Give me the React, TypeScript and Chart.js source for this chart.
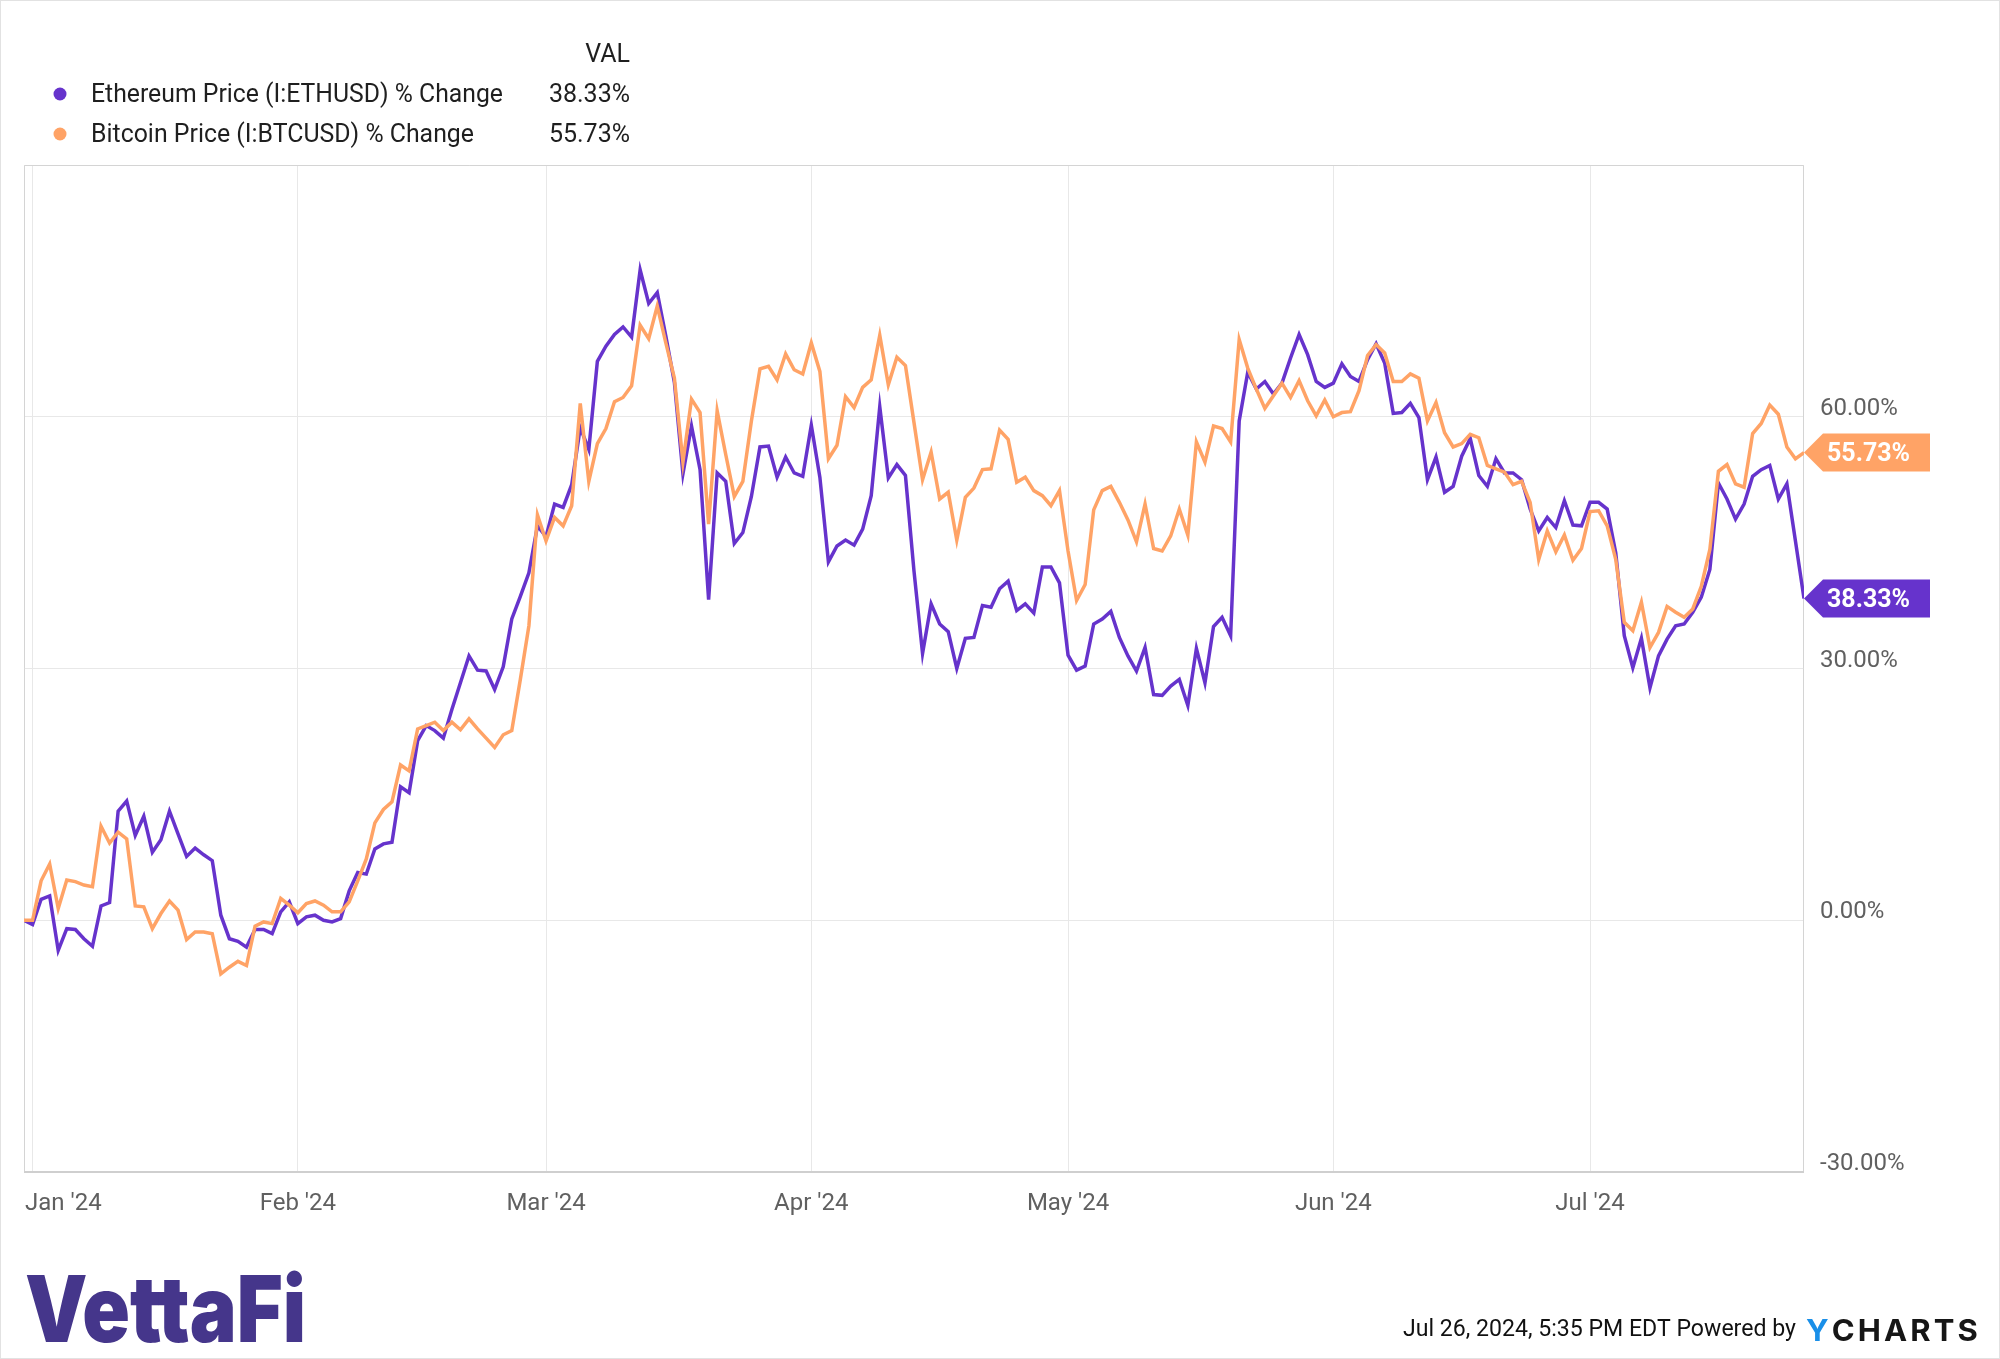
import { useEffect, useRef } from "react";
import { Chart, registerables } from "chart.js";

Chart.register(...registerables);

// Daily series, index 0 = Dec 31 2023 ... index 208 = Jul 26 2024
const startDate = "2023-12-31";

const ethValues: number[] = [
  0,
  // Jan
  -0.5, 2.5, 2.9, -3.6, -1.0, -1.1, -2.2, -3.1, 1.7, 2.1, 13.0, 14.2, 10.1, 12.4, 8.1, 9.6,
  13.0, 10.3, 7.6, 8.6, 7.8, 7.1, 0.6, -2.2, -2.5, -3.2, -1.1, -1.1, -1.6, 1.0, 2.2,
  // Feb
  -0.4, 0.4, 0.6, 0.0, -0.2, 0.2, 3.5, 5.7, 5.5, 8.5, 9.1, 9.3, 15.9, 15.2, 21.4, 23.2,
  22.6, 21.7, 25.1, 28.3, 31.5, 29.8, 29.7, 27.5, 30.2, 35.9, 38.6, 41.4, 47.0,
  // Mar
  45.7, 49.6, 49.2, 51.9, 58.7, 56.1, 66.6, 68.4, 69.8, 70.7, 69.5, 77.5, 73.5, 74.8, 69.6, 64.1,
  53.2, 58.9, 53.7, 38.2, 53.3, 52.3, 44.9, 46.2, 50.5, 56.4, 56.5, 52.8, 55.2, 53.3, 52.9,
  // Apr
  59.0, 52.8, 42.7, 44.6, 45.3, 44.7, 46.6, 50.6, 61.2, 52.7, 54.3, 53.0, 41.6, 31.8, 37.7,
  35.3, 34.4, 30.0, 33.6, 33.7, 37.5, 37.3, 39.5, 40.4, 36.9, 37.7, 36.6, 42.1, 42.1, 40.2,
  // May
  31.6, 29.8, 30.3, 35.3, 35.9, 36.8, 33.7, 31.5, 29.7, 32.5, 26.9, 26.8, 27.9, 28.7, 25.6, 32.4,
  28.3, 35.0, 36.1, 33.9, 59.5, 65.3, 63.3, 64.2, 62.7, 64.0, 67.0, 69.8, 67.4, 64.2, 63.5,
  // Jun
  64.0, 66.3, 64.8, 64.2, 66.8, 68.7, 66.4, 60.4, 60.5, 61.6, 59.9, 52.5, 55.2, 51.0, 51.7,
  55.3, 57.4, 53.0, 51.7, 55.0, 53.3, 53.3, 52.5, 49.0, 46.4, 48.0, 46.8, 50.0, 47.1, 47.0,
  // Jul
  49.8, 49.8, 49.0, 43.8, 33.9, 30.1, 33.6, 27.7, 31.5, 33.5, 35.1, 35.3, 36.7, 38.5, 41.8,
  52.1, 50.2, 47.8, 49.6, 52.9, 53.7, 54.2, 50.2, 52.0, 45.2, 38.33,
];

const btcValues: number[] = [
  0,
  // Jan
  0, 4.7, 6.7, 1.4, 4.8, 4.6, 4.2, 4.0, 11.2, 9.2, 10.5, 9.7, 1.7, 1.6, -1.0, 0.8,
  2.3, 1.2, -2.3, -1.4, -1.4, -1.6, -6.4, -5.6, -4.9, -5.4, -0.7, -0.2, -0.4, 2.6, 1.8,
  // Feb
  0.9, 2.0, 2.3, 1.8, 1.0, 1.0, 2.2, 4.7, 7.3, 11.6, 13.2, 14.1, 18.5, 17.8, 22.8, 23.2,
  23.6, 22.6, 23.6, 22.7, 24.0, 22.8, 21.7, 20.6, 22.1, 22.6, 28.7, 35.1, 48.3,
  // Mar
  45.2, 48.0, 47.0, 49.4, 61.6, 52.3, 56.8, 58.6, 61.8, 62.3, 63.7, 70.9, 69.3, 73.2, 68.8, 64.6,
  54.6, 62.1, 60.5, 47.2, 60.7, 55.5, 50.5, 52.3, 59.5, 65.7, 66.0, 64.4, 67.5, 65.6, 65.1,
  // Apr
  68.8, 65.4, 55.0, 56.6, 62.4, 61.1, 63.5, 64.4, 69.7, 63.8, 67.1, 66.1, 59.3, 52.5, 55.8,
  50.2, 51.0, 45.3, 50.4, 51.5, 53.7, 53.8, 58.4, 57.3, 52.2, 52.8, 51.2, 50.6, 49.4, 51.2,
  // May
  44.0, 38.1, 40.0, 48.9, 51.2, 51.7, 49.8, 47.7, 45.1, 49.6, 44.3, 44.0, 45.8, 49.0, 45.9, 57.0,
  54.6, 58.9, 58.6, 57.0, 69.2, 65.8, 63.3, 61.0, 62.5, 64.0, 62.3, 64.3, 61.9, 60.1, 62.0,
  // Jun
  60.0, 60.5, 60.6, 63.1, 67.3, 68.6, 67.6, 64.2, 64.2, 65.1, 64.6, 59.5, 61.7, 58.1, 56.4,
  56.8, 57.9, 57.5, 54.2, 53.8, 53.4, 51.9, 52.3, 49.8, 43.0, 46.4, 43.9, 45.9, 42.9, 44.3,
  // Jul
  48.7, 48.8, 47.0, 43.0, 35.5, 34.5, 37.9, 32.5, 34.3, 37.4, 36.7, 36.1, 37.1, 39.8, 44.2,
  53.5, 54.3, 52.0, 51.6, 58.0, 59.2, 61.4, 60.3, 56.4, 55.0, 55.73,
];

const monthTickDays = [1, 32, 61, 92, 122, 153, 183];
const monthTickLabels = ["Jan '24", "Feb '24", "Mar '24", "Apr '24", "May '24", "Jun '24", "Jul '24"];
const yGridValues = [-30, 0, 30, 60, 90];
const yLabelValues = [-30, 0, 30, 60];
const seriesNames = ["Ethereum Price (I:ETHUSD) % Change", "Bitcoin Price (I:BTCUSD) % Change"];
const seriesLastLabels = ["38.33%", "55.73%"];
const seriesColors = ["#6633cc", "#ffa366"];
const legendHeader = "VAL";
const footerText = "Jul 26, 2024, 5:35 PM EDT Powered by";
const logoText = "VettaFi";

const FONT = "Roboto, 'Noto Sans', sans-serif";

function fitText(
  ctx: CanvasRenderingContext2D,
  text: string,
  x: number,
  y: number,
  targetWidth: number
) {
  const w = ctx.measureText(text).width;
  const sx = targetWidth / w;
  ctx.save();
  ctx.translate(x, y);
  ctx.scale(sx, 1);
  ctx.textAlign = "left";
  ctx.fillText(text, 0, 0);
  ctx.restore();
}

const decorPlugin = {
  id: "decor",
  beforeDraw(chart: any) {
    const ctx = chart.ctx as CanvasRenderingContext2D;
    ctx.save();
    ctx.fillStyle = "#ffffff";
    ctx.fillRect(0, 0, chart.width, chart.height);
    ctx.restore();
  },
  beforeDatasetsDraw(chart: any) {
    const ctx = chart.ctx as CanvasRenderingContext2D;
    const { left, right, top, bottom } = chart.chartArea;
    ctx.save();
    ctx.strokeStyle = "#d4d4d4";
    ctx.lineWidth = 1;
    ctx.beginPath();
    ctx.moveTo(left + 0.5, bottom);
    ctx.lineTo(left + 0.5, top + 0.5);
    ctx.lineTo(right - 0.5, top + 0.5);
    ctx.lineTo(right - 0.5, bottom);
    ctx.stroke();
    ctx.strokeStyle = "#cfcfcf";
    ctx.lineWidth = 2;
    ctx.beginPath();
    ctx.moveTo(left, bottom);
    ctx.lineTo(right, bottom);
    ctx.stroke();
    ctx.restore();
  },
  afterDraw(chart: any) {
    const ctx = chart.ctx as CanvasRenderingContext2D;
    const xs = chart.scales.x;
    const ys = chart.scales.y;
    const { left, right } = chart.chartArea;
    ctx.save();

    // outer frame
    ctx.strokeStyle = "#e2e2e2";
    ctx.lineWidth = 1;
    ctx.strokeRect(0.5, 0.5, chart.width - 1, chart.height - 1);

    // x labels
    ctx.font = `24px ${FONT}`;
    ctx.fillStyle = "#606060";
    ctx.textBaseline = "alphabetic";
    ctx.textAlign = "left";
    monthTickDays.forEach((d, i) => {
      const label = monthTickLabels[i];
      const px = xs.getPixelForValue(d);
      const w = ctx.measureText(label).width;
      let lx = px - w / 2;
      if (lx < left + 1) lx = left + 1;
      ctx.fillText(label, lx, 1210);
    });

    // y labels
    yLabelValues.forEach((v) => {
      const py = ys.getPixelForValue(v);
      ctx.fillText(v.toFixed(2) + "%", right + 16, py - 2);
    });

    // legend
    ctx.fillStyle = "#1f1f1f";
    ctx.font = `25px ${FONT}`;
    ctx.textAlign = "right";
    ctx.fillText(legendHeader, 630, 62);
    const rowBase = [102, 142];
    seriesNames.forEach((name, i) => {
      ctx.fillStyle = seriesColors[i];
      ctx.beginPath();
      ctx.arc(60, rowBase[i] - 8, 6.5, 0, Math.PI * 2);
      ctx.fill();
      ctx.fillStyle = "#1f1f1f";
      ctx.textAlign = "left";
      fitText(ctx, name, 91, rowBase[i], i === 0 ? 412 : 383);
      ctx.textAlign = "right";
      ctx.fillText(seriesLastLabels[i], 630, rowBase[i]);
    });

    // last value tags
    const lastVals = [ethValues[ethValues.length - 1], btcValues[btcValues.length - 1]];
    lastVals.forEach((v, i) => {
      const py = ys.getPixelForValue(v);
      const tip = right;
      const bx = right + 19;
      const ex = 1930;
      const h = 19;
      ctx.fillStyle = seriesColors[i];
      ctx.beginPath();
      ctx.moveTo(tip, py);
      ctx.lineTo(bx, py - h);
      ctx.lineTo(ex, py - h);
      ctx.lineTo(ex, py + h);
      ctx.lineTo(bx, py + h);
      ctx.closePath();
      ctx.fill();
      ctx.fillStyle = "#ffffff";
      ctx.font = `bold 25px ${FONT}`;
      ctx.textAlign = "left";
      ctx.fillText(seriesLastLabels[i], 1827, py + 8.5);
    });

    // logo
    ctx.fillStyle = "#45368b";
    ctx.font = `900 92px Inter, ${FONT}`;
    fitText(ctx, logoText, 25, 1342, 281);

    // footer
    ctx.fillStyle = "#111111";
    ctx.font = `24px ${FONT}`;
    fitText(ctx, footerText, 1403, 1336, 393);

    // YCHARTS
    ctx.font = `bold 30px Inter, ${FONT}`;
    (ctx as any).letterSpacing = "3px";
    const wy = ctx.measureText("Y").width;
    const wc = ctx.measureText("CHARTS").width;
    const sx = 175 / (wy + wc);
    ctx.save();
    ctx.translate(1806, 1341);
    ctx.scale(sx, 1);
    ctx.textAlign = "left";
    ctx.fillStyle = "#1a8fe8";
    ctx.fillText("Y", 0, 0);
    ctx.fillStyle = "#161616";
    ctx.fillText("CHARTS", wy, 0);
    ctx.restore();
    (ctx as any).letterSpacing = "0px";

    ctx.restore();
  },
};

export default function App() {
  const canvasRef = useRef<HTMLCanvasElement | null>(null);

  useEffect(() => {
    document.body.style.margin = "0";
    document.body.style.overflow = "hidden";
    const canvas = canvasRef.current;
    if (!canvas) return;
    const dayIndex = ethValues.map((_, i) => i);
    const chart = new Chart(canvas, {
      type: "line",
      data: {
        datasets: [
          {
            label: seriesNames[0],
            data: dayIndex.map((d) => ({ x: d, y: ethValues[d] })),
            borderColor: seriesColors[0],
            borderWidth: 3.5,
            pointRadius: 0,
            tension: 0,
            fill: false,
            order: 1,
          },
          {
            label: seriesNames[1],
            data: dayIndex.map((d) => ({ x: d, y: btcValues[d] })),
            borderColor: seriesColors[1],
            borderWidth: 3.5,
            pointRadius: 0,
            tension: 0,
            fill: false,
            order: 0,
          },
        ],
      },
      options: {
        animation: false,
        responsive: false,
        devicePixelRatio: 1,
        layout: { padding: { left: 24, top: 165, right: 196, bottom: 187 } },
        plugins: { legend: { display: false }, tooltip: { enabled: false } },
        events: [],
        scales: {
          x: {
            type: "linear",
            min: 0,
            max: ethValues.length - 1,
            afterBuildTicks: (scale: any) => {
              scale.ticks = monthTickDays.map((v) => ({ value: v }));
            },
            ticks: { display: false },
            grid: { color: "#e8e8e8", lineWidth: 1, drawTicks: false },
            border: { display: false },
          },
          y: {
            position: "right",
            min: -30,
            max: 90,
            afterBuildTicks: (scale: any) => {
              scale.ticks = yGridValues.map((v) => ({ value: v }));
            },
            ticks: { display: false },
            grid: { color: "#e8e8e8", lineWidth: 1, drawTicks: false },
            border: { display: false },
          },
        },
      },
      plugins: [decorPlugin],
    });
    return () => chart.destroy();
  }, []);

  return (
    <div style={{ width: 2000, height: 1359, position: "relative" }} data-start={startDate}>
      <canvas ref={canvasRef} width={2000} height={1359} style={{ display: "block" }} />
    </div>
  );
}
